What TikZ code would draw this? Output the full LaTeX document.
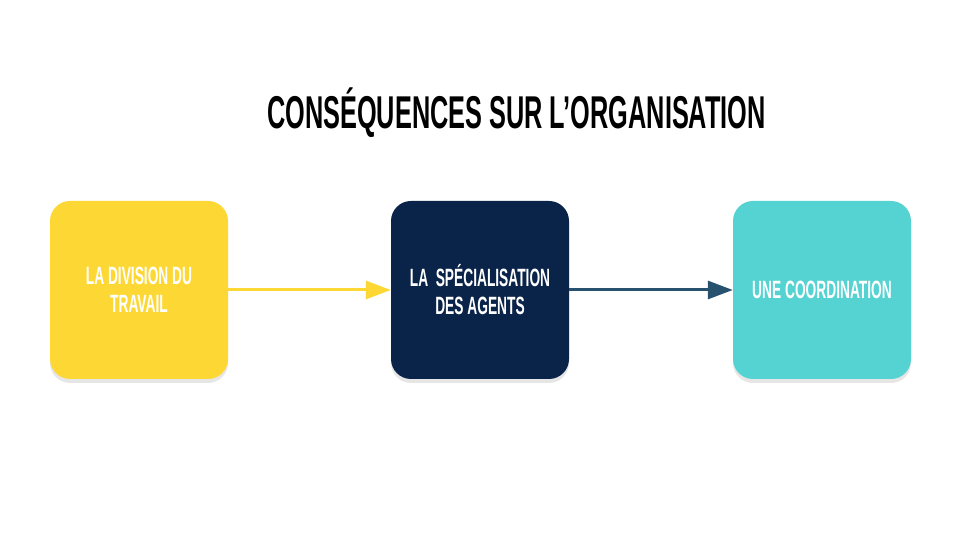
\documentclass[tikz,border=0pt]{standalone}
\usepackage{fontspec}
\newfontfamily\condfont[FakeStretch=0.55]{Liberation Sans}
\usetikzlibrary{arrows.meta,shadows}
\definecolor{jaune}{HTML}{FDD835}
\definecolor{marine}{HTML}{0A2348}
\definecolor{turquoise}{HTML}{55D3D2}
\definecolor{fleche}{HTML}{28506F}
\tikzset{
  bloc/.style={rounded corners=20pt, minimum width=178pt, minimum height=178pt,
    text=white, align=center, font=\condfont\bfseries\fontsize{25}{28}\selectfont,
    drop shadow={shadow xshift=0pt, shadow yshift=-4pt, opacity=0.2}},
  lien/.style={line width=3pt, -{Triangle[length=25pt,width=18pt]}}
}
\begin{document}
\begin{tikzpicture}[x=1pt,y=1pt]
  \useasboundingbox (0,0) rectangle (960,540);
  \node (titre) at (516.5,427) {\condfont\bfseries\fontsize{46}{46}\selectfont CONSÉQUENCES SUR L’ORGANISATION};
  \draw
    (139,250) node[bloc, fill=jaune] (0) {LA DIVISION DU\\TRAVAIL}
    (480,250) node[bloc, fill=marine] (1) {LA\ \ SPÉCIALISATION\\DES AGENTS}
    (822,250) node[bloc, fill=turquoise] (2) {UNE COORDINATION};
  \begin{scope}[lien]
    \draw[jaune] (0) to (1);
    \draw[fleche] (1) to (2);
  \end{scope}
\end{tikzpicture}
\end{document}
